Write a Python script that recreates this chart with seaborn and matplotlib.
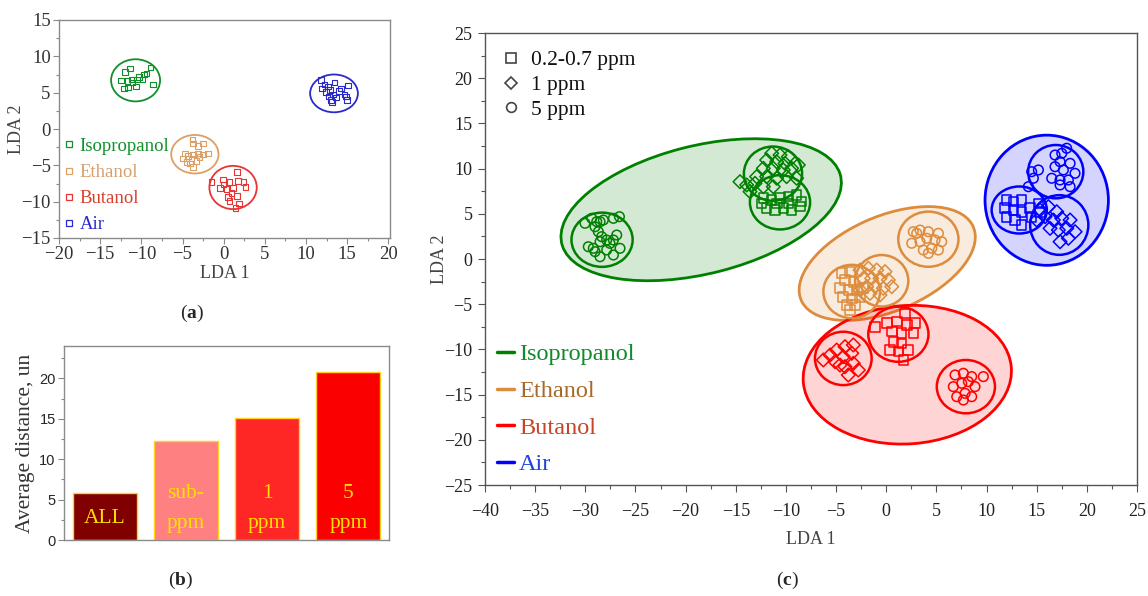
import pandas as pd
import matplotlib
matplotlib.use('Agg')
import matplotlib.pyplot as plt
from matplotlib.patches import Ellipse
from matplotlib.lines import Line2D
from matplotlib.ticker import MultipleLocator
from matplotlib.colors import to_rgba
import seaborn as sns

# ---------------- panel (a): LDA of the four gases ----------------
gases = ['Isopropanol', 'Ethanol', 'Butanol', 'Air']

iso_a_x = [-12.48, -12.0, -11.39, -11.67, -12.12, -11.6, -11.19, -10.67, -10.51, -10.27, -9.86, -9.66, -9.37, -8.89, -8.57, -11.07]
iso_a_y = [6.69, 7.84, 8.35, 6.6, 5.55, 5.69, 6.83, 5.83, 6.83, 7.15, 6.83, 7.52, 7.66, 8.44, 6.14, 6.38]
eth_a_x = [-3.8, -3.72, -3.12, -2.51, -4.73, -4.33, -3.72, -3.12, -2.51, -1.9, -4.93, -4.53, -3.92, -3.72, -2.91, -4.12, -3.31]
eth_a_y = [-1.43, -1.98, -2.35, -1.98, -3.36, -3.73, -3.5, -3.36, -3.5, -3.36, -4.09, -4.55, -4.09, -5.25, -3.82, -4.74, -4.42]
but_a_x = [-1.49, -0.08, 0.0, 0.73, 1.13, 1.61, 1.73, 2.42, 2.67, 0.33, 0.93, 0.52, 0.73, 1.61, 1.86, 1.45, -0.48]
but_a_y = [-7.31, -6.94, -7.63, -7.31, -8.09, -5.94, -7.18, -7.31, -7.95, -8.23, -8.78, -9.33, -9.93, -9.24, -10.25, -10.84, -8.09]
air_a_x = [11.84, 11.96, 12.24, 12.64, 12.93, 13.45, 13.25, 12.77, 13.05, 13.17, 13.98, 14.27, 14.67, 14.87, 15.07, 14.95, 12.44, 13.66]
air_a_y = [6.74, 5.55, 6.14, 5.83, 5.36, 6.38, 4.77, 4.45, 3.98, 3.7, 5.22, 5.55, 4.77, 4.45, 6.0, 3.98, 5.08, 4.31]

# circle drawn round each gas in (a)
ring_a_x = [-10.7, -3.5, 1.14, 13.4]
ring_a_y = [6.7, -3.47, -8.05, 4.9]
ring_a_w = [5.95, 5.75, 5.75, 5.8]
ring_a_h = [5.8, 5.3, 5.96, 5.2]

# ---------------- panel (b): average distance ----------------
dist_labels = ['ALL', 'sub-ppm', '1 ppm', '5 ppm']
dist_values = [5.8, 12.3, 15.1, 20.8]
dist_text = ['ALL', 'sub-\nppm', '1\nppm', '5\nppm']

# ---------------- panel (c): LDA by gas and concentration ----------------
concs = ['0.2-0.7 ppm', '1 ppm', '5 ppm']

iso_sq_x = [-12.25, -11.42, -10.59, -9.76, -8.93, -11.92, -11.09, -10.26, -9.43, -8.43, -10.92, -12.42, -9.76, -8.6]
iso_sq_y = [6.72, 6.53, 6.72, 6.9, 7.08, 5.61, 5.42, 5.61, 5.42, 6.34, 6.16, 6.16, 6.16, 5.79]
iso_di_x = [-11.42, -10.59, -9.76, -11.92, -10.92, -10.09, -12.25, -11.26, -10.26, -9.43, -8.76, -12.92, -11.92, -10.92, -9.93, -8.93, -14.58, -13.91, -13.08, -12.25, -11.26, -13.58]
iso_di_y = [11.69, 11.5, 11.32, 10.95, 10.76, 10.58, 10.03, 10.03, 9.85, 10.03, 10.4, 9.11, 9.11, 8.93, 9.11, 8.93, 8.55, 8.19, 8.37, 8.0, 8.0, 7.45]
iso_ci_x = [-30.03, -29.36, -28.86, -29.03, -28.53, -28.2, -27.2, -26.6, -28.7, -28.37, -28.53, -27.87, -27.54, -27.2, -26.87, -26.54, -29.2, -29.7, -28.53, -27.2, -29.03, -27.87]
iso_ci_y = [3.95, 4.5, 4.13, 3.57, 4.13, 4.31, 4.5, 4.68, 3.02, 2.47, 1.91, 2.1, 1.73, 2.1, 2.65, 1.18, 1.18, 1.36, 0.25, 0.44, 0.81, 1.0]

eth_sq_x = [-4.44, -3.61, -4.11, -3.28, -4.61, -3.78, -2.94, -4.28, -3.44, -2.61, -3.94, -3.11, -3.61, -2.28]
eth_sq_y = [-1.58, -1.4, -2.32, -2.51, -3.24, -3.43, -3.43, -4.17, -4.35, -4.17, -5.09, -5.09, -5.64, -3.24]
eth_di_x = [-2.61, -1.78, -0.95, -0.12, -2.28, -1.45, -0.62, 0.21, -1.95, -1.12, -0.29, 0.55, -1.62, -0.62, -2.61]
eth_di_y = [-1.22, -1.03, -1.22, -1.4, -2.14, -2.14, -2.14, -2.32, -3.06, -3.06, -3.24, -3.06, -3.8, -3.98, -3.43]
eth_ci_x = [2.7, 3.37, 4.2, 5.2, 2.54, 3.37, 4.04, 4.87, 5.53, 3.7, 4.54, 5.2, 3.04, 4.2]
eth_ci_y = [3.02, 3.2, 3.02, 2.84, 1.74, 1.91, 2.29, 2.1, 1.91, 0.99, 1.18, 0.99, 2.84, 0.63]

but_sq_x = [-1.12, 0.05, 1.05, 1.87, 2.87, 0.55, 1.54, 2.7, 0.71, 1.54, 2.2, 1.21, 1.71, 0.38, 2.04]
but_sq_y = [-7.49, -7.11, -6.93, -6.01, -7.11, -8.04, -8.22, -8.22, -9.15, -9.33, -10.07, -10.25, -11.17, -10.07, -7.3]
but_di_x = [-6.27, -5.6, -4.94, -4.11, -3.28, -5.1, -4.28, -3.44, -4.11, -3.28, -3.78, -2.78, -4.61]
but_di_y = [-11.17, -10.62, -10.07, -9.7, -9.51, -11.36, -10.81, -10.43, -11.91, -11.54, -12.83, -12.28, -11.73]
but_ci_x = [6.86, 7.69, 8.52, 9.68, 6.69, 7.53, 8.19, 8.85, 7.03, 7.86, 8.52, 7.69]
but_ci_y = [-12.83, -12.64, -13.01, -13.01, -14.12, -13.75, -13.57, -14.12, -15.23, -14.86, -15.23, -15.6]

air_sq_x = [12.0, 12.67, 13.5, 11.84, 12.67, 13.5, 14.34, 12.0, 12.84, 13.5, 14.5, 15.17, 15.33]
air_sq_y = [6.53, 6.34, 6.53, 5.61, 5.42, 5.23, 5.61, 4.68, 4.31, 3.76, 4.68, 6.16, 5.23]
air_di_x = [15.33, 16.17, 17.0, 15.83, 16.66, 17.5, 18.33, 16.33, 17.16, 18.0, 18.83, 17.33, 18.16, 15.0]
air_di_y = [5.42, 5.79, 5.23, 4.68, 4.31, 4.5, 4.31, 3.39, 3.2, 3.39, 3.02, 1.91, 2.29, 4.31]
air_ci_x = [14.5, 15.17, 14.67, 14.17, 16.83, 17.5, 17.99, 17.33, 18.33, 16.83, 17.66, 18.82, 16.5, 17.33, 18.16, 18.33, 17.33]
air_ci_y = [9.66, 9.85, 8.93, 8.0, 11.5, 11.69, 12.25, 10.76, 10.58, 10.21, 9.85, 9.48, 8.93, 8.74, 8.74, 8.0, 8.19]

# big ellipse per gas: centre x, centre y, width, height, angle
gas_ell_x = [-18.45, 0.1, 2.1, 16.0]
gas_ell_y = [5.45, -0.5, -12.8, 6.5]
gas_ell_w = [28.8, 19.0, 20.8, 12.3]
gas_ell_h = [14.1, 10.3, 15.3, 14.4]
gas_ell_a = [16, 27, 5, 0]

# small circle per gas (rows) and concentration (sq, di, ci)
sub_x = [[-10.59, -11.29, -28.33], [-3.44, -0.45, 4.2], [1.21, -4.28, 7.94], [13.26, 17.25, 16.9]]
sub_y = [[6.27, 9.44, 2.13], [-3.6, -2.41, 2.19], [-8.32, -11.0, -14.12], [5.42, 3.76, 9.66]]
sub_w = [[6.0, 5.8, 6.1], [5.65, 5.3, 6.0], [6.0, 5.65, 5.8], [5.5, 5.8, 5.5]]
sub_h = [[6.0, 6.0, 6.0], [5.9, 5.7, 6.1], [6.1, 5.9, 5.9], [5.2, 6.6, 5.9]]

# ---------------- style ----------------
col_a = ['#10902A', '#DDA064', '#E83434', '#2A2ACC']
col_a_text = ['#10902A', '#D4A070', '#D4402A', '#2A2ACC']
col_c = ['#008000', '#DC8C3C', '#FF0000', '#0000FF']
col_c_text = ['#108A2A', '#A86A2A', '#C84428', '#2244DD']
bar_colors = ['#800000', '#FF8080', '#FF2626', '#FA0000']

sns.set_style('ticks')
plt.rcParams['font.family'] = ['Liberation Serif', 'DejaVu Serif']
plt.rcParams['mathtext.fontset'] = 'custom'
plt.rcParams['mathtext.rm'] = 'Liberation Serif'
plt.rcParams['mathtext.bf'] = 'Liberation Serif:bold'

W, H = 1148, 596
fig = plt.figure(figsize=(W / 100, H / 100), dpi=100)
axa = fig.add_axes([59 / W, (H - 238) / H, 331 / W, 218 / H])
axb = fig.add_axes([64 / W, (H - 540) / H, 325 / W, 194 / H])
axc = fig.add_axes([485 / W, (H - 485) / H, 652 / W, 452 / H])


def hollow(ax):
    pts = ax.collections[-1]
    pts.set_edgecolors(pts.get_facecolors())
    pts.set_facecolors('none')


def style_axis(ax, spine_col, size, length=4, pad=2):
    for sp in ax.spines.values():
        sp.set_visible(True)
        sp.set_color(spine_col)
        sp.set_linewidth(1.0)
    ax.tick_params(which='major', length=length, width=0.8, color=spine_col, labelsize=size, pad=pad)
    ax.tick_params(which='minor', length=length * 0.6, width=0.8, color=spine_col)


# ---- (a) ----
df_a = pd.DataFrame({
    'x': iso_a_x + eth_a_x + but_a_x + air_a_x,
    'y': iso_a_y + eth_a_y + but_a_y + air_a_y,
    'gas': (['Isopropanol'] * len(iso_a_x) + ['Ethanol'] * len(eth_a_x)
            + ['Butanol'] * len(but_a_x) + ['Air'] * len(air_a_x)),
})
sns.scatterplot(data=df_a, x='x', y='y', hue='gas', hue_order=gases,
                palette=col_a, marker='s', s=16, linewidth=0.8, legend=False, ax=axa, zorder=3)
hollow(axa)
for i in range(4):
    axa.add_patch(Ellipse((ring_a_x[i], ring_a_y[i]), ring_a_w[i], ring_a_h[i],
                          fill=False, edgecolor=col_a[i], lw=1.3, zorder=2))
axa.set_xlim(-20, 20.2)
axa.set_ylim(-15, 15)
axa.xaxis.set_major_locator(MultipleLocator(5))
axa.xaxis.set_minor_locator(MultipleLocator(2.5))
axa.yaxis.set_major_locator(MultipleLocator(5))
axa.yaxis.set_minor_locator(MultipleLocator(2.5))
style_axis(axa, '#8a8a8a', 13.5)
axa.tick_params(labelcolor='#333333')
axa.set_xlabel('LDA 1', fontsize=13, color='#444444', labelpad=1)
axa.set_ylabel('LDA 2', fontsize=13, color='#444444', labelpad=-3)
h_a = [Line2D([], [], ls='', marker='s', ms=4.2, mfc='none', mec=c, mew=0.9) for c in col_a]
axa.legend(h_a, gases, loc='upper left', bbox_to_anchor=(0.0, 0.485), frameon=False,
           fontsize=13.5, labelcolor=col_a_text, handlelength=0.5, handletextpad=0.3,
           labelspacing=0.48, borderaxespad=0.1, borderpad=0.2)

# ---- (b) ----
sns.barplot(x=dist_labels, y=dist_values, hue=dist_labels, palette=bar_colors, saturation=1,
            legend=False, width=0.79, edgecolor='#FFD21E', linewidth=1.0, ax=axb)
for i, t in enumerate(dist_text):
    yy = 2.7 if '\n' not in t else 3.9
    axb.text(i, yy, t, ha='center', va='center', color='#FFE100', fontsize=15.5, linespacing=1.75)
axb.set_xlim(-0.5, 3.5)
axb.set_ylim(0, 24)
axb.yaxis.set_major_locator(MultipleLocator(5))
axb.yaxis.set_minor_locator(MultipleLocator(2.5))
style_axis(axb, '#8a8a8a', 10.5)
axb.tick_params(axis='x', bottom=False, labelbottom=False)
for lab in axb.get_yticklabels():
    lab.set_fontfamily('Liberation Sans')
axb.set_xlabel('')
axb.set_ylabel('Average distance, un', fontsize=15.5, color='#333333', labelpad=3)

# ---- (c) ----
rows = []
for g, sets in zip(gases, [[(iso_sq_x, iso_sq_y), (iso_di_x, iso_di_y), (iso_ci_x, iso_ci_y)],
                           [(eth_sq_x, eth_sq_y), (eth_di_x, eth_di_y), (eth_ci_x, eth_ci_y)],
                           [(but_sq_x, but_sq_y), (but_di_x, but_di_y), (but_ci_x, but_ci_y)],
                           [(air_sq_x, air_sq_y), (air_di_x, air_di_y), (air_ci_x, air_ci_y)]]):
    for cname, (xs, ys) in zip(concs, sets):
        for xv, yv in zip(xs, ys):
            rows.append((g, cname, xv, yv))
df_c = pd.DataFrame(rows, columns=['gas', 'conc', 'x', 'y'])

for i in range(4):
    axc.add_patch(Ellipse((gas_ell_x[i], gas_ell_y[i]), gas_ell_w[i], gas_ell_h[i], angle=gas_ell_a[i],
                          facecolor=to_rgba(col_c[i], 0.17), edgecolor=col_c[i], lw=2.0, zorder=1))
for i in range(4):
    for j in range(3):
        axc.add_patch(Ellipse((sub_x[i][j], sub_y[i][j]), sub_w[i][j], sub_h[i][j],
                              fill=False, edgecolor=col_c[i], lw=1.8, zorder=2))

sns.scatterplot(data=df_c, x='x', y='y', hue='gas', hue_order=gases, palette=col_c,
                style='conc', style_order=concs, markers={'0.2-0.7 ppm': 's', '1 ppm': 'D', '5 ppm': 'o'},
                s=48, linewidth=1.1, legend=False, ax=axc, zorder=3)
hollow(axc)

axc.set_xlim(-40, 25)
axc.set_ylim(-25, 25)
axc.xaxis.set_major_locator(MultipleLocator(5))
axc.xaxis.set_minor_locator(MultipleLocator(2.5))
axc.yaxis.set_major_locator(MultipleLocator(5))
axc.yaxis.set_minor_locator(MultipleLocator(2.5))
style_axis(axc, '#555555', 13, length=5, pad=4)
axc.tick_params(axis='x', pad=8)
axc.tick_params(labelcolor='#222222')
axc.set_xlabel('LDA 1', fontsize=13, color='#444444', labelpad=8)
axc.set_ylabel('LDA 2', fontsize=13, color='#444444', labelpad=-3)

h_m = [Line2D([], [], ls='', marker=m, ms=ms, mfc='none', mec='#444444', mew=1.2)
       for m, ms in zip(['s', 'D', 'o'], [6.5, 6, 7])]
leg1 = axc.legend(h_m, concs, loc='upper left', bbox_to_anchor=(0.0, 1.0), frameon=False,
                  fontsize=15.5, handlelength=0.8, handletextpad=0.55, labelspacing=0.22,
                  borderaxespad=0.5, borderpad=0.3, labelcolor='#111111')
axc.add_artist(leg1)
h_l = [Line2D([], [], color=c, lw=2.5) for c in col_c]
axc.legend(h_l, gases, loc='upper left', bbox_to_anchor=(0.0, 0.34), frameon=False,
           fontsize=17.5, handlelength=0.7, handletextpad=0.2, labelspacing=0.6,
           borderaxespad=0.3, borderpad=0.2, labelcolor=col_c_text)

# panel tags
fig.text(192 / W, 1 - 313 / H, r'($\mathbf{a}$)', ha='center', va='center', fontsize=14)
fig.text(181 / W, 1 - 580 / H, r'($\mathbf{b}$)', ha='center', va='center', fontsize=14)
fig.text(787 / W, 1 - 580 / H, r'($\mathbf{c}$)', ha='center', va='center', fontsize=14)

fig.savefig('out.png', dpi=100)
